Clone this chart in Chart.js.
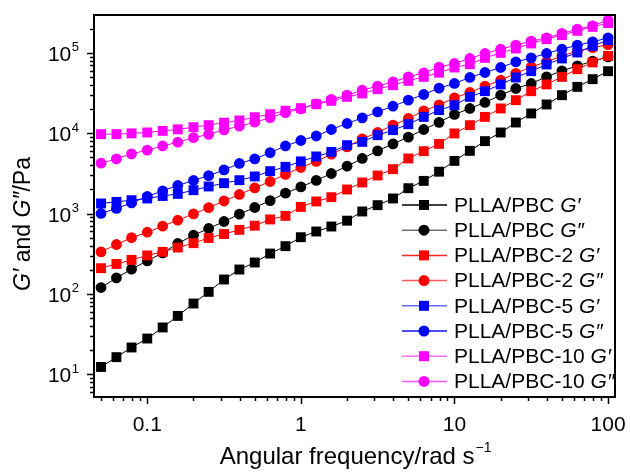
<!DOCTYPE html>
<html>
<head>
<meta charset="utf-8">
<script src="https://cdn.jsdelivr.net/npm/chart.js@4.4.1/dist/chart.umd.min.js"></script>
<style>
  body { margin: 0; background: #fff; }
</style>
</head>
<body>
<canvas id="chart" width="630" height="472"></canvas>
<script>
// angular frequency, rad/s
const freq = [0.05, 0.063, 0.079, 0.1, 0.126, 0.158, 0.2, 0.251, 0.316, 0.398, 0.501, 0.631, 0.794,
  1, 1.26, 1.58, 2, 2.51, 3.16, 3.98, 5.01, 6.31, 7.94,
  10, 12.6, 15.8, 20, 25.1, 31.6, 39.8, 50.1, 63.1, 79.4, 100];

// moduli, Pa
const pbcG1 = [12.3, 16.3, 21.5, 27.8, 38.2, 53.2, 75.9, 106, 151, 201, 246, 318, 393, 508, 598, 690, 816, 1062, 1273, 1542,
  2070, 2553, 3325, 4530, 6040, 7980, 10230, 13620, 17650, 22850, 29800, 37840, 47200, 59300];
const pbcG2 = [120, 158, 203, 258, 324, 424, 538, 652, 797, 983, 1191, 1448, 1795, 2148, 2590, 3155, 3890, 4855, 6040, 7380,
  8940, 11140, 13680, 17150, 20370, 24200, 29800, 36100, 41700, 50400, 59900, 69000, 79100, 89400];
const pbc2G1 = [209, 236, 265, 301, 334, 378, 428, 497, 557, 627, 707, 845, 936, 1211, 1416, 1600, 1995, 2440, 2980, 3570,
  4855, 5985, 7380, 9950, 12620, 16000, 20370, 25820, 33420, 40550, 50400, 62800, 76200, 92000];
const pbc2G2 = [334, 412, 501, 586, 697, 827, 989, 1184, 1435, 1730, 2090, 2510, 3076, 3750, 4455, 5495, 6775, 8510, 10230, 12620,
  15280, 19010, 22590, 27600, 32200, 38600, 45800, 55600, 67100, 77400, 92000, 105200, 116400, 126900];
const pbc5G1 = [1336, 1400, 1468, 1542, 1656, 1758, 1955, 2175, 2392, 2606, 2900, 3373, 3816, 4467, 5140, 5865, 7110, 7820, 9470, 10930,
  12980, 16000, 19400, 22390, 28400, 33420, 40550, 49550, 59300, 71900, 85400, 101400, 122500, 144300];
const pbc5G2 = [1003, 1158, 1358, 1633, 1918, 2239, 2583, 2965, 3500, 4207, 4800, 5750, 6950, 8130, 9250, 11140, 13240, 15560, 18490, 21730,
  25820, 30410, 36470, 41700, 49550, 57150, 65920, 77450, 86900, 98600, 111400, 125000, 137500, 154200];
const pbc10G1 = [9750, 9750, 9970, 10230, 10710, 11190, 11910, 12620, 13550, 14430, 15850, 17290, 19100, 20560, 23030, 25330, 28400, 31320, 35400, 39700,
  44950, 50400, 56850, 65920, 72450, 86900, 100200, 113700, 131300, 148600, 166700, 188500, 211300, 235000];
const pbc10G2 = [4245, 4800, 5540, 6160, 6950, 7740, 8810, 9690, 11020, 12250, 13740, 15640, 18060, 20140, 23230, 26360, 29800, 34420, 38630, 43650,
  50400, 56500, 66550, 73960, 85400, 98600, 111400, 125000, 140300, 154200, 175000, 197700, 217600, 255900];

const sampleNames = ['PLLA/PBC', 'PLLA/PBC', 'PLLA/PBC-2', 'PLLA/PBC-2', 'PLLA/PBC-5', 'PLLA/PBC-5', 'PLLA/PBC-10', 'PLLA/PBC-10'];
const moduli = ['G\u2032', 'G\u2033', 'G\u2032', 'G\u2033', 'G\u2032', 'G\u2033', 'G\u2032', 'G\u2033'];
const series = [pbcG1, pbcG2, pbc2G1, pbc2G2, pbc5G1, pbc5G2, pbc10G1, pbc10G2];
const yTickExp = [1, 2, 3, 4, 5];
const xTickLabels = ['0.1', '1', '10', '100'];

const colors = ['#000000', '#000000', '#ff0000', '#ff0000', '#0000ff', '#0000ff', '#ff00ff', '#ff00ff'];
const legendLine = ['#000000', '#707070', '#ff2020', '#ff5a5a', '#6a6aff', '#1010ff', '#ff70ff', '#ff50ff'];
const FONT = '"Liberation Sans", Arial, Helvetica, sans-serif';

function drawParts(ctx, parts, x, y, size) {
  let cx = x;
  parts.forEach(p => {
    ctx.font = (p[1] ? 'italic ' : '') + size + 'px ' + FONT;
    ctx.fillText(p[0], cx, y);
    cx += ctx.measureText(p[0]).width;
  });
  return cx - x;
}
function partsWidth(ctx, parts, size) {
  let w = 0;
  parts.forEach(p => {
    ctx.font = (p[1] ? 'italic ' : '') + size + 'px ' + FONT;
    w += ctx.measureText(p[0]).width;
  });
  return w;
}

const decor = {
  id: 'decor',
  afterDraw(chart) {
    const ctx = chart.ctx;
    const a = chart.chartArea;
    const xs = chart.scales.x, ys = chart.scales.y;
    ctx.save();
    ctx.strokeStyle = '#000';
    ctx.fillStyle = '#000';

    // frame
    ctx.lineWidth = 2;
    ctx.strokeRect(a.left, a.top, a.right - a.left, a.bottom - a.top);

    // ticks
    ctx.lineWidth = 1.5;
    ctx.beginPath();
    for (let e = -2; e <= 2; e++) {
      for (let m = 1; m <= 9; m++) {
        const v = m * Math.pow(10, e);
        if (v < xs.min || v > xs.max) continue;
        const px = Math.round(xs.getPixelForValue(v)) + 0.5;
        ctx.moveTo(px, a.bottom);
        ctx.lineTo(px, a.bottom + (m === 1 ? 7 : 4));
      }
    }
    for (let e = 0; e <= 5; e++) {
      for (let m = 1; m <= 9; m++) {
        const v = m * Math.pow(10, e);
        if (v < ys.min || v > ys.max) continue;
        const py = Math.round(ys.getPixelForValue(v)) + 0.5;
        ctx.moveTo(a.left, py);
        ctx.lineTo(a.left - (m === 1 ? 7 : 4), py);
      }
    }
    ctx.stroke();

    // x tick labels
    ctx.font = '21px ' + FONT;
    ctx.textAlign = 'center';
    ctx.textBaseline = 'alphabetic';
    xTickLabels.forEach(t => {
      ctx.fillText(t, xs.getPixelForValue(parseFloat(t)), 431);
    });

    // y tick labels 10^n
    ctx.textAlign = 'left';
    yTickExp.forEach(n => {
      const py = ys.getPixelForValue(Math.pow(10, n));
      ctx.font = '13px ' + FONT;
      const ws = ctx.measureText(String(n)).width;
      ctx.font = '21px ' + FONT;
      const wb = ctx.measureText('10').width;
      const right = a.left - 15;
      ctx.fillText('10', right - ws - wb - 0.5, py + 8);
      ctx.font = '13px ' + FONT;
      ctx.fillText(String(n), right - ws, py - 1.5);
    });

    // x title
    const xt = [['Angular frequency/rad s', false]];
    const wx = partsWidth(ctx, xt, 24);
    ctx.font = '13px ' + FONT;
    const wsup = ctx.measureText('\u22121').width;
    const x0 = (a.left + a.right) / 2 - (wx + wsup) / 2;
    drawParts(ctx, xt, x0, 464, 24);
    ctx.font = '14px ' + FONT;
    ctx.fillText('\u22121', x0 + wx + 1, 452);

    // y title
    const yt = [['G\u2032', true], [' and ', false], ['G\u2033', true], ['/Pa', false]];
    const wy = partsWidth(ctx, yt, 23);
    ctx.save();
    ctx.translate(30, 224);
    ctx.rotate(-Math.PI / 2);
    drawParts(ctx, yt, -wy / 2, 0, 23);
    ctx.restore();

    // legend
    chart.data.datasets.forEach((ds, i) => {
      const ly = 205 + i * 25.2;
      ctx.strokeStyle = legendLine[i];
      ctx.lineWidth = 1.5;
      ctx.beginPath();
      ctx.moveTo(402, ly);
      ctx.lineTo(447, ly);
      ctx.stroke();
      ctx.fillStyle = colors[i];
      if (ds.pointStyle === 'rect') {
        ctx.fillRect(424 - 5, ly - 5, 10, 10);
      } else {
        ctx.beginPath();
        ctx.arc(424, ly, 5.5, 0, Math.PI * 2);
        ctx.fill();
      }
      ctx.fillStyle = '#000';
      ctx.textBaseline = 'middle';
      drawParts(ctx, [[sampleNames[i] + ' ', false], [moduli[i], true]], 454, ly + 1, 21);
    });
    ctx.restore();
  }
};

const datasets = series.map((vals, i) => ({
  label: sampleNames[i] + ' ' + moduli[i],
  data: freq.map((f, j) => ({ x: f, y: vals[j] })),
  showLine: true,
  borderColor: colors[i],
  backgroundColor: colors[i],
  borderWidth: 1,
  pointStyle: i % 2 === 0 ? 'rect' : 'circle',
  pointRadius: i % 2 === 0 ? 7 : 5.4,
  pointBorderWidth: 0,
  order: series.length - i,
  clip: false
}));

new Chart(document.getElementById('chart'), {
  type: 'scatter',
  data: { datasets: datasets },
  options: {
    responsive: false,
    animation: false,
    layout: { padding: { top: 15, right: 15, left: 0, bottom: 0 } },
    plugins: { legend: { display: false }, tooltip: { enabled: false } },
    scales: {
      x: {
        type: 'logarithmic', min: 0.045, max: 111,
        afterFit(s) { s.height = 75; },
        ticks: { display: false }, grid: { display: false }, border: { display: false }
      },
      y: {
        type: 'logarithmic', min: 5.2, max: 2.97e5,
        afterFit(s) { s.width = 94; },
        ticks: { display: false }, grid: { display: false }, border: { display: false }
      }
    }
  },
  plugins: [decor]
});
</script>
</body>
</html>
